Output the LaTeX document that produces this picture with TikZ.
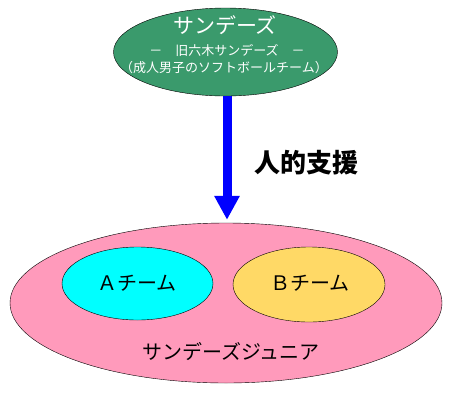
\documentclass[tikz,border=0pt]{standalone}
\usepackage{fontspec}
\setmainfont{Noto Sans CJK JP}
\usepackage{tikz}
\usetikzlibrary{arrows.meta,positioning,shapes.geometric}
\definecolor{teamgreen}{HTML}{3A9A6C}
\definecolor{juniorpink}{HTML}{FF9ABB}
\definecolor{teamcyan}{HTML}{00FFFF}
\definecolor{teamgold}{HTML}{FFD966}

\begin{document}
\begin{tikzpicture}[
    x=1pt, y=-1pt,
    oval/.style={draw, ellipse, thin, inner sep=0pt},
    titletext/.style={text=white, font=\fontsize{21}{23}\selectfont},
    subtext/.style={text=white, font=\fontsize{13}{14}\selectfont},
    teamtext/.style={font=\fontsize{20}{22}\selectfont},
    arr/.style={-{Triangle[length=24pt, width=24pt]}, line width=9pt, blue}
]
\useasboundingbox (0,0) rectangle (450,400);
\node[oval, fill=teamgreen, minimum width=224pt, minimum height=88pt] (sandeez) at (225.5,52) {};
\node[titletext] (sname) at (225,25) {サンデーズ};
\node[subtext] (old) at (227,50) {－　旧六木サンデーズ　－};
\node[subtext] (adult) at (224,68) {（成人男子のソフトボールチーム）};
\node[oval, fill=juniorpink, minimum width=432pt, minimum height=160pt] (junior) at (226,303) {};
\node[oval, fill=teamcyan, minimum width=151pt, minimum height=73pt] (teama) at (137.5,283.5) {};
\node[oval, fill=teamgold, minimum width=152pt, minimum height=75pt] (teamb) at (309,284.5) {};
\node[teamtext] (aname) at (137,283) {Ａチーム};
\node[teamtext] (bname) at (310,283) {Ｂチーム};
\node[teamtext] (jname) at (231,352) {サンデーズジュニア};
\draw[arr, shorten >=3pt] (sandeez.south -| 227,0) -- (junior.north -| 227,0);
\node[font=\fontsize{26}{28}\bfseries\selectfont, anchor=west] (support) at (251,163) {人的支援};
\end{tikzpicture}
\end{document}
